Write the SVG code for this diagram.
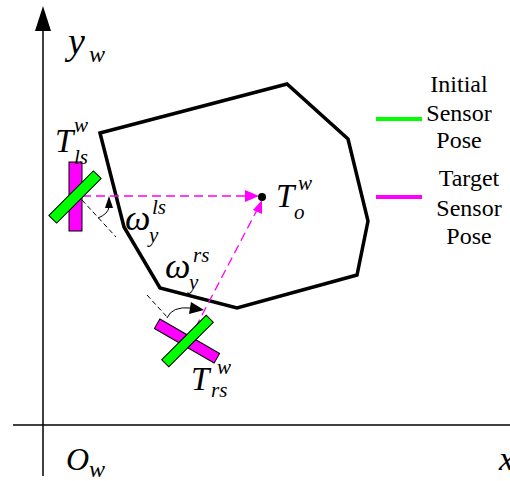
<svg xmlns="http://www.w3.org/2000/svg" width="510" height="481" viewBox="0 0 510 481">
<defs>
<style>
text{font-family:'Liberation Serif','Times New Roman',serif}
.it{font-style:italic;fill:#000}
.rm{fill:#000;font-size:24px;text-anchor:middle}
.axis{stroke:#000;stroke-width:1.5;fill:none}
.obj{stroke:#000;stroke-width:3.5;fill:none;stroke-linejoin:miter}
.mag{fill:#FF00FF;stroke:#000;stroke-width:1}
.grn{fill:#00FF00;stroke:#000;stroke-width:1}
.mdash{stroke:#FF00FF;stroke-width:1.3;stroke-dasharray:9 5;fill:none}
.kdash{stroke:#000;stroke-width:1;stroke-dasharray:5 3;fill:none}
.arc{stroke:#000;stroke-width:1;fill:none}
</style>
</defs>
<rect width="510" height="481" fill="#fff"/>
<g id="axes">
<line class="axis" x1="43" y1="28" x2="43" y2="476"/>
<polygon points="43,6 35,31 51,31" fill="#000"/>
<line class="axis" x1="13" y1="425" x2="510" y2="425"/>
<text class="it" x="68" y="54" font-size="38">y<tspan x="89" y="62" font-size="24">w</tspan></text>
<text class="it" x="66" y="470" font-size="32">O<tspan x="89" y="477" font-size="24">w</tspan></text>
<text class="it" x="499" y="470" font-size="34">x</text>
</g>
<g id="object">
<polygon class="obj" points="100,133 287,84 348,139 368,221 357,275 237,308 160,288 124,227"/>
</g>
<g id="connectors">
<line class="mdash" x1="82" y1="196" x2="247" y2="196"/>
<polygon points="259,196 245,190 245,202" fill="#FF00FF"/>
<line class="mdash" x1="189" y1="340" x2="257" y2="210"/>
<polygon points="262,200 253,210 262,214" fill="#FF00FF"/>
<line class="kdash" x1="82" y1="200" x2="116" y2="237"/>
<path class="arc" d="M98,218 Q108,214 109,207"/>
<polygon points="109,196 105,208 113,208" fill="#000"/>
<line class="kdash" x1="147" y1="295" x2="168" y2="318"/>
<path class="arc" d="M167,318 Q172,306 191,308"/>
<polygon points="204,310 191,302 189,314" fill="#000"/>
</g>
<g id="target-origin">
<circle cx="262" cy="197" r="4" fill="#000"/>
<text class="it" x="276" y="207" font-size="33">T<tspan x="298" y="190" font-size="21">w</tspan><tspan x="294" y="219" font-size="21">o</tspan></text>
</g>
<g id="left-sensor">
<rect class="mag" x="69" y="162" width="13" height="69"/>
<rect class="grn" x="43.5" y="191.5" width="63" height="11" transform="rotate(-45 75 197)"/>
<text class="it" x="55" y="152" font-size="33">T<tspan x="74" y="132" font-size="21">w</tspan><tspan x="74" y="164" font-size="21">ls</tspan></text>
<text class="it" x="125" y="230" font-size="36">ω<tspan x="152" y="214" font-size="21">ls</tspan><tspan x="149" y="242" font-size="21">y</tspan></text>
</g>
<g id="right-sensor">
<rect class="mag" x="152.5" y="335.5" width="69" height="11" transform="rotate(30 187 341)"/>
<rect class="grn" x="156" y="336" width="63" height="10" transform="rotate(-45 187.5 341)"/>
<text class="it" x="191" y="390" font-size="33">T<tspan x="217" y="374" font-size="21">w</tspan><tspan x="211" y="397" font-size="21">rs</tspan></text>
<text class="it" x="165" y="278" font-size="36">ω<tspan x="193" y="262" font-size="21">rs</tspan><tspan x="189" y="289" font-size="21">y</tspan></text>
</g>
<g id="legend">
<line x1="376" y1="119" x2="422" y2="119" stroke="#00FF00" stroke-width="4"/>
<text class="rm" x="459" y="92">Initial</text>
<text class="rm" x="459" y="121">Sensor</text>
<text class="rm" x="459" y="148">Pose</text>
<line x1="376" y1="197" x2="422" y2="197" stroke="#FF00FF" stroke-width="4"/>
<text class="rm" x="469" y="186">Target</text>
<text class="rm" x="469" y="216">Sensor</text>
<text class="rm" x="469" y="244">Pose</text>
</g>
</svg>
